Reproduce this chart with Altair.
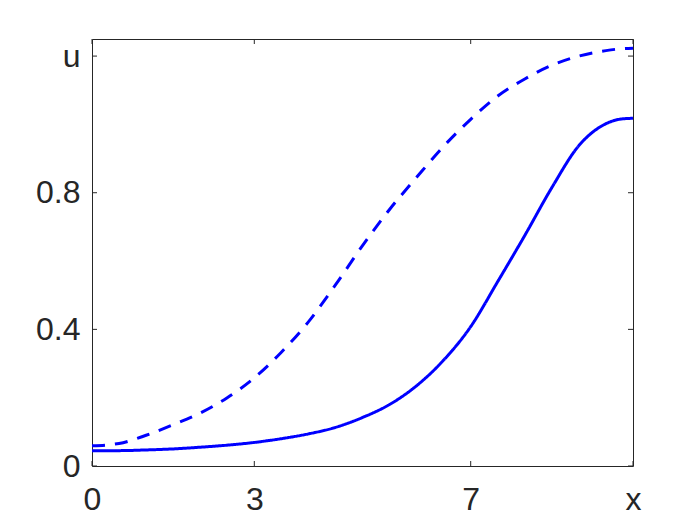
import altair as alt
import pandas as pd

# ---- data ----
x_pts = [0, 0.5, 1, 1.5, 2, 2.5, 3, 3.5, 4, 4.5, 5, 5.5, 6, 6.5, 7, 7.5, 8, 8.5, 9, 9.5, 9.75, 10]
u_solid = [0.045, 0.045, 0.047, 0.050, 0.055, 0.061, 0.069, 0.080, 0.094, 0.113, 0.142,
           0.180, 0.235, 0.310, 0.408, 0.540, 0.675, 0.815, 0.938, 1.002, 1.015, 1.018]
u_dashed = [0.059, 0.066, 0.090, 0.121, 0.155, 0.200, 0.258, 0.333, 0.422, 0.530, 0.645,
            0.751, 0.845, 0.936, 1.015, 1.083, 1.133, 1.173, 1.200, 1.216, 1.221, 1.223]

x_ticks = [0, 3, 7, 10]
y_ticks = [0, 0.4, 0.8, 1.2]
x_tick_labels = ["0", "3", "7", "x"]
y_tick_labels = ["0", "0.4", "0.8", "u"]

W, H = 541, 427
FONT = "Liberation Sans"
AX = "#262626"
BLUE = "#0000ff"

rows = []
for xv, a, b in zip(x_pts, u_solid, u_dashed):
    rows.append({"x": xv, "u": a, "s": "solid"})
    rows.append({"x": xv, "u": b, "s": "dashed"})
df = pd.DataFrame(rows)

xscale = alt.Scale(domain=[0, 10], nice=False, zero=False)
yscale = alt.Scale(domain=[0, 1.25], nice=False, zero=False)

xmap = "{" + ",".join(f"'{v}':'{l}'" for v, l in zip(x_ticks, x_tick_labels)) + "}"
ymap = "{" + ",".join(f"'{v}':'{l}'" for v, l in zip(y_ticks, y_tick_labels)) + "}"

xaxis = alt.Axis(values=x_ticks, labelExpr=f"{xmap}[toString(datum.value)]", title=None,
                 domain=False, ticks=False, grid=False, labelFont=FONT, labelFontSize=32,
                 labelColor=AX, labelPadding=18, labelFlush=False, labelOverlap=False)
yaxis = alt.Axis(values=y_ticks, labelExpr=f"{ymap}[toString(datum.value)]", title=None,
                 domain=False, ticks=False, grid=False, labelFont=FONT, labelFontSize=32,
                 labelColor=AX, labelPadding=12, labelFlush=False, labelOverlap=False)

lines = alt.Chart(df).mark_line(strokeWidth=3, color=BLUE, strokeCap="butt",
                                interpolate="monotone").encode(
    x=alt.X("x:Q", scale=xscale, axis=xaxis),
    y=alt.Y("u:Q", scale=yscale, axis=yaxis),
    strokeDash=alt.StrokeDash("s:N", scale=alt.Scale(domain=["solid", "dashed"],
                                                     range=[[1, 0], [13, 10]]), legend=None),
    detail="s:N",
)

xt = pd.DataFrame({"x": x_ticks})
yt = pd.DataFrame({"u": y_ticks})
tick_style = dict(color=AX, strokeWidth=1)
bot = alt.Chart(xt).mark_rule(**tick_style).encode(
    x=alt.X("x:Q", scale=xscale), y=alt.value(H), y2=alt.value(H - 5))
top = alt.Chart(xt).mark_rule(**tick_style).encode(
    x=alt.X("x:Q", scale=xscale), y=alt.value(0), y2=alt.value(5))
lef = alt.Chart(yt).mark_rule(**tick_style).encode(
    y=alt.Y("u:Q", scale=yscale), x=alt.value(0), x2=alt.value(5))
rig = alt.Chart(yt).mark_rule(**tick_style).encode(
    y=alt.Y("u:Q", scale=yscale), x=alt.value(W), x2=alt.value(W - 5))

chart = alt.layer(lines, bot, top, lef, rig).properties(
    width=W, height=H,
    autosize=alt.AutoSizeParams(type="none"),
    padding={"left": 84, "top": 31, "right": 50, "bottom": 50},
    background="white",
).configure_view(stroke=AX, strokeWidth=1)

chart.save("out.html", embed_options={"renderer": "svg", "actions": False})
